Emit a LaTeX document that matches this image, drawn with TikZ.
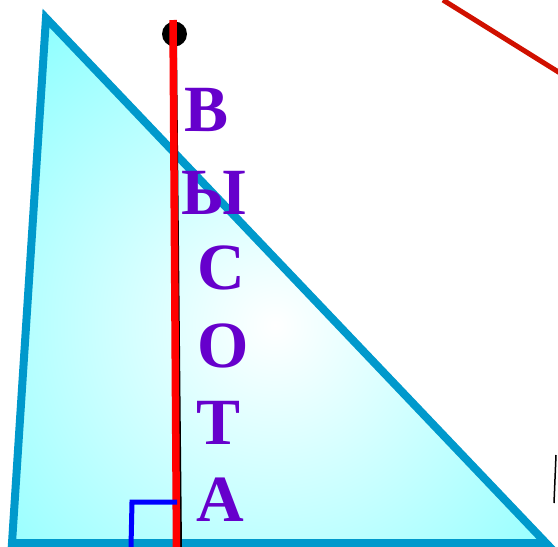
\documentclass[tikz,border=0pt]{standalone}
\usepackage{fontspec}
\setmainfont{Liberation Serif}
\usetikzlibrary{positioning}
\usepackage{xcolor}

\definecolor{rebro}{HTML}{0099CC}
\definecolor{zalivka}{RGB}{95,255,255}
\definecolor{bukva}{HTML}{6600CC}
\definecolor{luch}{HTML}{D01000}

\begin{document}
\begin{tikzpicture}[
x=1pt, y=-1pt,
letter/.style={text=bukva, inner sep=0pt, font=\fontsize{66}{66}\selectfont\bfseries},
side/.style={draw=rebro, line width=8pt, line join=miter},
height/.style={draw=red, line width=7.5pt},
foot/.style={draw=black, line width=2pt},
rightangle/.style={draw=blue, line width=5pt}
]

\useasboundingbox (0,0) rectangle (558,547);

%-------------------------
% Vertices
%-------------------------

\coordinate (A) at (46,18);
\coordinate (B) at (12,543);
\coordinate (C) at (546,543);

\coordinate (top)  at (173,20);
\coordinate (base) at (176.5,547);
\coordinate (foottop) at (176,45);
\coordinate (footbase) at (181,547);

\coordinate (m1) at (131,547);
\coordinate (m2) at (132,502);
\coordinate (m3) at (177,502);

\coordinate (r1) at (443,0);
\coordinate (r2) at (560,73);

\coordinate (k1) at (556,455);
\coordinate (k2) at (554,503);

%-------------------------
% Triangle
%-------------------------

\begin{scope}
\clip (A) -- (B) -- (C) -- cycle;
\shade[inner color=white, outer color=zalivka] (275,325) circle (540);
\end{scope}
\draw[side] (A) -- (B) -- (C) -- cycle;

%-------------------------
% Height
%-------------------------

\draw[foot] (foottop) -- (footbase);
\fill[black] (174.5,34) circle (12.5);
\draw[height] (top) -- (base);
\draw[rightangle] (m1) -- (m2) -- (m3);

\draw[draw=luch, line width=5pt] (r1) -- (r2);
\draw[black, line width=1.5pt] (k1) -- (k2);

%-------------------------
% Letters
%-------------------------

\node[letter] (v) at (207,110) {В};
\node[letter] (y) at (214,193) {Ы};
\node[letter] (s) at (221,268) {С};
\node[letter] (o) at (223,346) {О};
\node[letter] (t) at (219,423) {Т};
\node[letter] (a) at (220,500) {А};

\end{tikzpicture}
\end{document}
